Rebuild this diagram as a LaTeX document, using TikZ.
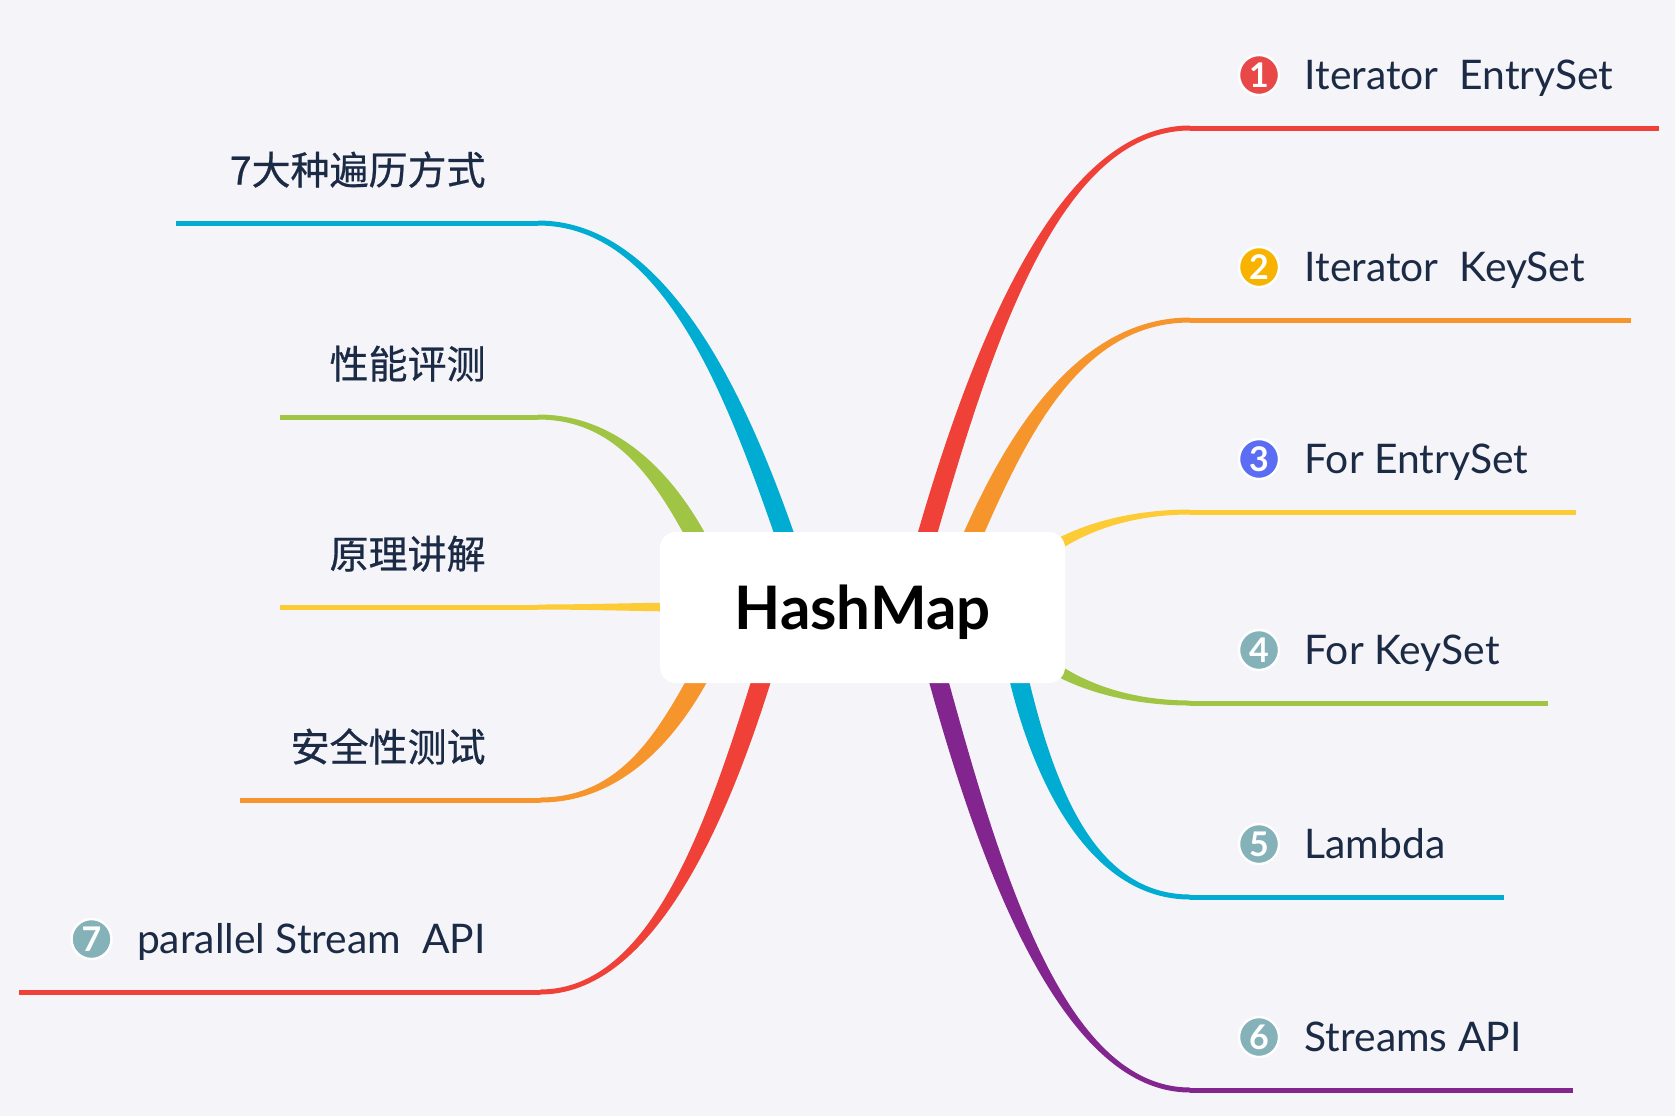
\documentclass[tikz,border=0pt]{standalone}
\usepackage{fontspec}
\setmainfont{Lato}
\newfontfamily\cjk[FakeBold=0.6]{Noto Sans CJK SC}
\usetikzlibrary{calc,positioning}
\definecolor{bgpaper}{HTML}{F5F5F9}
\definecolor{ink}{HTML}{1C2B45}
\definecolor{brred}{HTML}{EF4137}
\definecolor{brorange}{HTML}{F7952D}
\definecolor{bryellow}{HTML}{FDCB36}
\definecolor{brgreen}{HTML}{A0C544}
\definecolor{brblue}{HTML}{00ACD1}
\definecolor{brpurple}{HTML}{83258F}
\definecolor{tagred}{HTML}{E84848}
\definecolor{tagamber}{HTML}{F8B300}
\definecolor{tagblue}{HTML}{5A6DF3}
\definecolor{taggrey}{HTML}{84B2B8}
\pgfdeclarelayer{bg}
\pgfsetlayers{bg,main}
% tapered branch: [start half width] colour, start, control 1, control 2, end, far end
\newcommand\branch[7][4.75pt]{%
  \fill[#2] let \p1=#3, \p2=#4, \p3=#5, \p4=#6,
      \n1={atan2(\y2-\y1,\x2-\x1)}, \n2={atan2(\y4-\y3,\x4-\x3)},
      \p5=({-sin(\n1)*#1},{cos(\n1)*#1}), \p6=({-sin(\n2)*1.25pt},{cos(\n2)*1.25pt}) in
    ({\x1+(\x5)},{\y1+(\y5)}) .. controls ({\x2+(\x5)},{\y2+(\y5)}) and ({\x3+(\x6)},{\y3+(\y6)}) .. ({\x4+(\x6)},{\y4+(\y6)})
    -- ({\x4-(\x6)},{\y4-(\y6)}) .. controls ({\x3-(\x6)},{\y3-(\y6)}) and ({\x2-(\x5)},{\y2-(\y5)}) .. ({\x1-(\x5)},{\y1-(\y5)}) -- cycle;
  \draw[#2,line width=2.5pt] #6 -- #7;}

\begin{document}
\begin{tikzpicture}[
    x=0.5pt, y=-0.5pt,
    hub/.style={fill=white,rounded corners=8pt,minimum width=202.5pt,minimum height=75.5pt,
      inner sep=0pt,text height=21.5pt,text depth=0pt,font=\fontsize{30}{30}\selectfont\bfseries},
    tag/.style={circle,fill=#1,draw=white,line width=1.2pt,inner sep=0pt,minimum size=20pt,
      text=white,font=\fontsize{17}{17}\selectfont\bfseries},
    leaf/.style={inner sep=0pt,text=ink,text height=14.5pt,text depth=0pt,font=\fontsize{20.4}{24}\selectfont},
    cjkleaf/.style={leaf,font=\fontsize{19.5}{24}\selectfont\cjk}
  ]
  \useasboundingbox (0,0) rectangle (1675,1116);
  \coordinate (r1s) at (925,542);  \coordinate (r1e) at (1190,128);  \coordinate (r1f) at (1659,128);
  \coordinate (r2s) at (970,542);  \coordinate (r2e) at (1190,320);  \coordinate (r2f) at (1631,320);
  \coordinate (r3s) at (1000,600); \coordinate (r3e) at (1190,512);  \coordinate (r3f) at (1576,512);
  \coordinate (r4s) at (1000,615); \coordinate (r4e) at (1190,703);  \coordinate (r4f) at (1548,703);
  \coordinate (r5s) at (1018,675); \coordinate (r5e) at (1190,897);  \coordinate (r5f) at (1504,897);
  \coordinate (r6s) at (937,675);  \coordinate (r6e) at (1190,1090); \coordinate (r6f) at (1573,1090);
  \coordinate (l1s) at (787,542);  \coordinate (l1e) at (538,223);   \coordinate (l1f) at (176,223);
  \coordinate (l2s) at (699,542);  \coordinate (l2e) at (538,417);   \coordinate (l2f) at (280,417);
  \coordinate (l3s) at (700,607);  \coordinate (l3e) at (538,607);   \coordinate (l3f) at (280,607);
  \coordinate (l4s) at (700,675);  \coordinate (l4e) at (540,800);   \coordinate (l4f) at (240,800);
  \coordinate (l5s) at (763,675);  \coordinate (l5e) at (540,992);   \coordinate (l5f) at (19,992);
  \begin{pgfonlayer}{bg}
    \fill[bgpaper] (0,0) rectangle (1675,1116);
    \branch{brred}{(r1s)}{(983,340)}{(1060,128)}{(r1e)}{(r1f)}
    \branch{brorange}{(r2s)}{(1018,431)}{(1081,320)}{(r2e)}{(r2f)}
    \branch[4pt]{bryellow}{(r3s)}{(1040,535)}{(1120,512)}{(r3e)}{(r3f)}
    \branch[4pt]{brgreen}{(r4s)}{(1040,680)}{(1120,703)}{(r4e)}{(r4f)}
    \branch{brblue}{(r5s)}{(1045,790)}{(1095,897)}{(r5e)}{(r5f)}
    \branch{brpurple}{(r6s)}{(992,876)}{(1065,1090)}{(r6e)}{(r6f)}
    \branch{brblue}{(l1s)}{(733,385)}{(661,223)}{(l1e)}{(l1f)}
    \branch{brgreen}{(l2s)}{(664,477)}{(617,417)}{(l2e)}{(l2f)}
    \branch[2.3pt]{bryellow}{(l3s)}{(650,607)}{(590,607)}{(l3e)}{(l3f)}
    \branch{brorange}{(l4s)}{(665,739)}{(619,800)}{(l4e)}{(l4f)}
    \branch{brred}{(l5s)}{(715,830)}{(650,992)}{(l5e)}{(l5f)}
  \end{pgfonlayer}
  \node[hub] (hm) at (862.5,607.5) {HashMap};
  \node[tag=tagred] (t1) at (1259,75) {1};
  \node[leaf,right=12pt of t1] (n1) {Iterator\ \ EntrySet};
  \node[tag=tagamber] (t2) at (1259,267) {2};
  \node[leaf,right=12pt of t2] (n2) {Iterator\ \ KeySet};
  \node[tag=tagblue] (t3) at (1259,459) {3};
  \node[leaf,right=12pt of t3] (n3) {For EntrySet};
  \node[tag=taggrey] (t4) at (1259,650) {4};
  \node[leaf,right=12pt of t4] (n4) {For KeySet};
  \node[tag=taggrey] (t5) at (1259,844) {5};
  \node[leaf,right=12pt of t5] (n5) {Lambda};
  \node[tag=taggrey] (t6) at (1259,1037) {6};
  \node[leaf,right=12pt of t6] (n6) {Streams API};
  \node[cjkleaf,anchor=east] (m1) at (486,170) {7大种遍历方式};
  \node[cjkleaf,anchor=east] (m2) at (486,364) {性能评测};
  \node[cjkleaf,anchor=east] (m3) at (486,554) {原理讲解};
  \node[cjkleaf,anchor=east] (m4) at (486,747) {安全性测试};
  \node[leaf,anchor=east] (n7) at (486,939) {parallel Stream\ \ API};
  \node[tag=taggrey,left=12pt of n7] (t7) {7};
\end{tikzpicture}
\end{document}
